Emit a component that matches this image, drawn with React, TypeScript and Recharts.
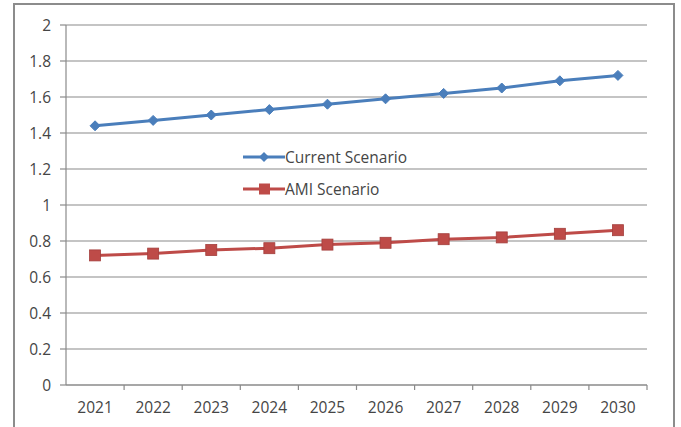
import { Line, LineChart, XAxis, YAxis, CartesianGrid } from "recharts";

const years = ["2021", "2022", "2023", "2024", "2025", "2026", "2027", "2028", "2029", "2030"];
const currentScenario = [1.44, 1.47, 1.5, 1.53, 1.56, 1.59, 1.62, 1.65, 1.69, 1.72];
const amiScenario = [0.72, 0.73, 0.75, 0.76, 0.78, 0.79, 0.81, 0.82, 0.84, 0.86];
const yTicks = [0, 0.2, 0.4, 0.6, 0.8, 1, 1.2, 1.4, 1.6, 1.8, 2];

const BLUE = "#4a7ebb";
const RED = "#be4b48";
const GRID = "#8a8a8a";
const TEXT = "#454545";
const FONT = "'Open Sans', Lato, sans-serif";
const FONT_SIZE = 15.5;

const data = years.map((year, i) => ({
  year,
  current: currentScenario[i],
  ami: amiScenario[i],
}));

// plot area geometry
const W = 681;
const H = 427;
const M = { top: 25, right: 34, left: 16, bottom: 12 };
const Y_AXIS_W = 50;
const BAND = (W - M.left - Y_AXIS_W - M.right) / years.length;

function Diamond(props: any) {
  const { cx, cy } = props;
  if (cx == null || cy == null) return null;
  const r = 5;
  return (
    <path
      d={`M${cx},${cy - r}L${cx + r},${cy}L${cx},${cy + r}L${cx - r},${cy}Z`}
      fill={BLUE}
      stroke={BLUE}
    />
  );
}

function Square(props: any) {
  const { cx, cy } = props;
  if (cx == null || cy == null) return null;
  const s = 11;
  return <rect x={cx - s / 2} y={cy - s / 2} width={s} height={s} fill={RED} stroke="#a33f3c" strokeWidth={0.8} />;
}

// category label at the centre, tick mark on the band boundary
function YearTick(props: any) {
  const { x, y, payload } = props;
  return (
    <g>
      <line x1={x + BAND / 2} x2={x + BAND / 2} y1={y - 8} y2={y - 3} stroke={GRID} strokeWidth={1.2} />
      <text x={x} y={y + 20} textAnchor="middle" fill={TEXT} fontSize={FONT_SIZE} fontFamily={FONT}>
        {payload.value}
      </text>
    </g>
  );
}

function ScenarioLegend() {
  const rows = [
    { label: "Current Scenario", color: BLUE, marker: "diamond" },
    { label: "AMI Scenario", color: RED, marker: "square" },
  ];
  return (
    <div style={{ fontFamily: FONT, fontSize: FONT_SIZE, color: TEXT }}>
      {rows.map((r) => (
        <div key={r.label} style={{ display: "flex", alignItems: "center", height: 32 }}>
          <svg width={42} height={14}>
            <line x1={0} x2={42} y1={7} y2={7} stroke={r.color} strokeWidth={3} />
            {r.marker === "diamond" ? (
              <path d="M21,2L26,7L21,12L16,7Z" fill={r.color} />
            ) : (
              <rect x={16} y={1.5} width={11} height={11} fill={r.color} />
            )}
          </svg>
          <span style={{ marginLeft: 0 }}>{r.label}</span>
        </div>
      ))}
    </div>
  );
}

export default function App() {
  return (
    <div style={{ position: "absolute", left: 0, top: 0, width: W, height: H, background: "#fff", overflow: "hidden" }}>
      <div
        style={{
          position: "absolute",
          left: 13,
          top: 3,
          width: 662,
          height: 440,
          border: "2px solid #8c8c8c",
          boxSizing: "border-box",
        }}
      />
      <LineChart width={W} height={H} data={data} margin={M} style={{ position: "absolute", left: 0, top: 0 }}>
        <CartesianGrid horizontal vertical={false} stroke={GRID} strokeWidth={1.2} />
        <XAxis
          dataKey="year"
          stroke={GRID}
          strokeWidth={1.2}
          tickLine={false}
          tick={<YearTick />}
          height={30}
          interval={0}
          padding={{ left: BAND / 2, right: BAND / 2 }}
        />
        <YAxis
          domain={[0, 2]}
          ticks={yTicks}
          width={Y_AXIS_W}
          stroke={GRID}
          strokeWidth={1.2}
          tickSize={6}
          tickMargin={9}
          tick={{ fill: TEXT, fontSize: FONT_SIZE, fontFamily: FONT }}
          tickFormatter={(v: number) => String(Number(v.toFixed(1)))}
        />
        <Line
          dataKey="current"
          name="Current Scenario"
          stroke={BLUE}
          strokeWidth={3}
          dot={<Diamond />}
          activeDot={false}
          isAnimationActive={false}
        />
        <Line
          dataKey="ami"
          name="AMI Scenario"
          stroke={RED}
          strokeWidth={3}
          dot={<Square />}
          activeDot={false}
          isAnimationActive={false}
        />
      </LineChart>
      <div style={{ position: "absolute", left: 243, top: 141 }}>
        <ScenarioLegend />
      </div>
    </div>
  );
}
